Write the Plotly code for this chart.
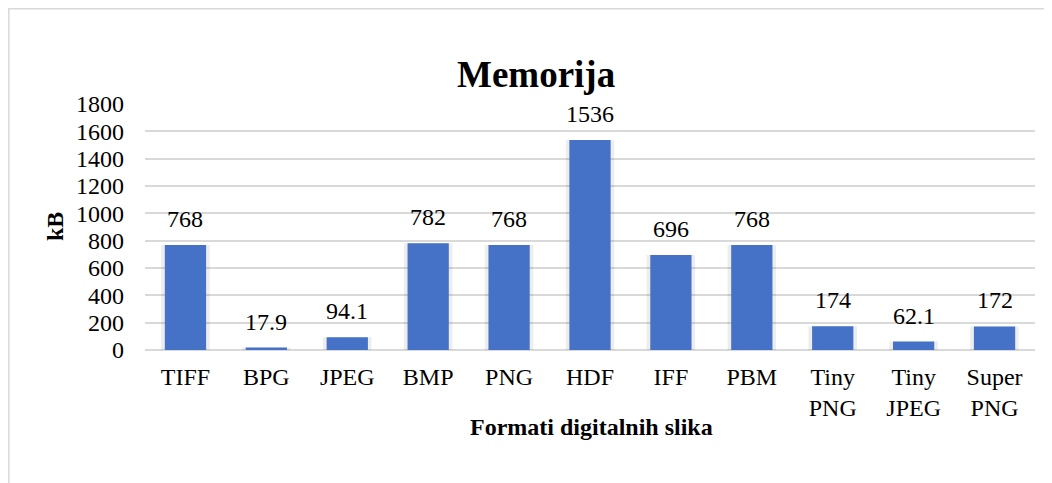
import plotly.graph_objects as go

categories = ["TIFF", "BPG", "JPEG", "BMP", "PNG", "HDF", "IFF", "PBM", "Tiny<br>PNG", "Tiny<br>JPEG", "Super<br>PNG"]
values = [768, 17.9, 94.1, 782, 768, 1536, 696, 768, 174, 62.1, 172]
labels = ["768", "17.9", "94.1", "782", "768", "1536", "696", "768", "174", "62.1", "172"]
y_ticks = [0, 200, 400, 600, 800, 1000, 1200, 1400, 1600, 1800]

FONT = "Liberation Serif, Times New Roman, serif"
FS = 24

OFF = 8  # browser default body margin
W, H = 1052 - OFF, 483 - OFF
L, R, T, B = 145 - OFF, 17, 104 - OFF, 133
pw, ph = W - L - R, H - T - B

def px(x):
    return (x - OFF - L) / pw

def py(y):
    return (H - B - (y - OFF)) / ph

fig = go.Figure()
fig.add_trace(go.Bar(x=categories, y=values, width=0.6, marker=dict(color="rgba(0,0,0,0.07)", line=dict(width=0)),
                     hoverinfo="skip", showlegend=False))
fig.add_trace(go.Bar(x=categories, y=values, width=0.51,
                     marker=dict(color="#4572c6", line=dict(width=0)), showlegend=False))

for c, v, t in zip(categories, values, labels):
    fig.add_annotation(x=c, y=v, text=t, showarrow=False, yanchor="bottom", yshift=11,
                       font=dict(family=FONT, size=FS, color="#000000"))

fig.add_shape(type="rect", xref="paper", yref="paper", x0=px(8.8), x1=px(1070), y0=py(8.8), y1=py(500),
              line=dict(color="#d9d9d9", width=1.5), fillcolor="rgba(0,0,0,0)", layer="below")

fig.add_annotation(xref="paper", yref="paper", x=px(536), y=py(52), text="<b>Memorija</b>", showarrow=False,
                   font=dict(family=FONT, size=37, color="#000000"))
fig.add_annotation(xref="paper", yref="paper", x=px(40), y=py(227), text="<b>kB</b>", showarrow=False, textangle=-90,
                   font=dict(family=FONT, size=FS, color="#000000"))
fig.add_annotation(xref="paper", yref="paper", x=px(591), y=py(442), text="<b>Formati digitalnih slika</b>", showarrow=False,
                   font=dict(family=FONT, size=FS, color="#000000"))

fig.update_layout(
    width=W, height=H,
    margin=dict(l=L, r=R, t=T, b=B, autoexpand=False),
    paper_bgcolor="white", plot_bgcolor="white",
    barmode="overlay",
    font=dict(family=FONT, size=FS, color="#000000"),
)
fig.update_xaxes(showgrid=False, showline=False, ticks="", tickfont=dict(family=FONT, size=FS, color="#000000"),
                 ticklabelstandoff=10, automargin=False)
fig.update_yaxes(range=[0, 1800], tickvals=y_ticks, showgrid=True, gridcolor="#d9d9d9", gridwidth=1.5,
                 zeroline=True, zerolinecolor="#d9d9d9", zerolinewidth=1.5, showline=False, ticks="",
                 tickfont=dict(family=FONT, size=FS, color="#000000"), ticklabelstandoff=20, automargin=False)

fig.write_html("out.html")
